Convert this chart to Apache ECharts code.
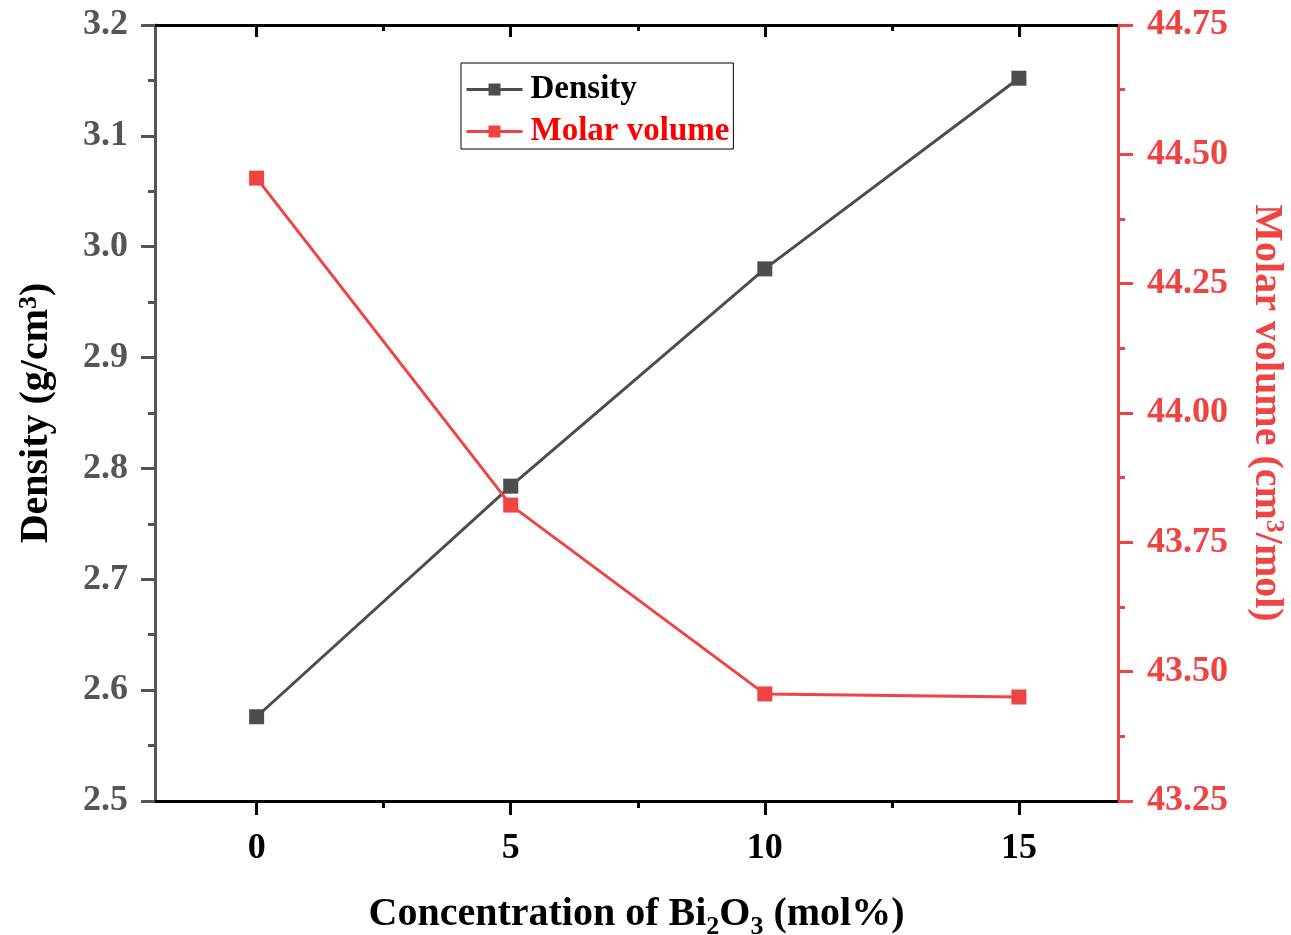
<!DOCTYPE html>
<html>
<head>
<meta charset="utf-8">
<script src="https://cdn.jsdelivr.net/npm/echarts@6/dist/echarts.min.js"></script>
<style>html,body{margin:0;padding:0;background:#fff}#c{width:1291px;height:935px}</style>
</head>
<body>
<div id="c"></div>
<script>
var concentration = [0, 5, 10, 15];
var density = [2.576, 2.784, 2.980, 3.152];
var molarVolume = [44.454, 43.822, 43.457, 43.451];
var xMajorTicks = [0, 5, 10, 15];
var xMinorTicks = [2.5, 7.5, 12.5];

var FONT = '"Liberation Serif","Times New Roman",serif';
var GREY = '#555555';
var DGREY = '#4d4d4d';
var RED = '#f04343';

var chart = echarts.init(document.getElementById('c'));
var base = {type: 'value', min: -2, max: 16.95, splitLine: {show: false}};
function xa(pos, ticks, len, inside, showLine, showLabel, name) {
  var o = Object.assign({}, base, {
    position: pos,
    axisLine: {show: showLine, onZero: false, lineStyle: {color: '#000', width: 3}},
    axisTick: {show: true, customValues: ticks, length: len, inside: inside, lineStyle: {color: '#000', width: 3}},
    axisLabel: showLabel ? {show: true, customValues: ticks, margin: 30, color: '#000', fontFamily: FONT, fontWeight: 'bold', fontSize: 36} : {show: false}
  });
  if (name) {
    o.name = name;
    o.nameLocation = 'middle';
    o.nameGap = 89;
    o.nameTextStyle = {
      color: '#000', fontFamily: FONT, fontWeight: 'bold', fontSize: 40,
      rich: {
        sub: {fontFamily: FONT, fontWeight: 'bold', fontSize: 26, color: '#000', verticalAlign: 'bottom', padding: [24, 0, 0, 0]}
      }
    };
  }
  return o;
}

var xAxes = [
  xa('bottom', xMajorTicks, 14, false, true, true, 'Concentration of Bi{sub|2}O{sub|3} (mol%)'),
  xa('bottom', xMinorTicks, 7, false, false, false),
  xa('top', xMajorTicks, 12, true, true, false),
  xa('top', xMinorTicks, 6, true, false, false)
];

var option = {
  animation: false,
  backgroundColor: '#fff',
  grid: {left: 155, right: 173, top: 25, bottom: 134, containLabel: false, outerBoundsMode: 'none'},
  legend: {
    orient: 'vertical',
    left: 461, top: 63,
    backgroundColor: '#fff',
    borderColor: '#000', borderWidth: 1,
    padding: [10, 4, 1, 4],
    itemWidth: 56, itemHeight: 15, itemGap: 9,
    lineStyle: {width: 3},
    textStyle: {fontFamily: FONT, fontWeight: 'bold', fontSize: 33, padding: [0, 0, 0, 3]},
    data: [
      {name: 'Density', textStyle: {color: '#000'}},
      {name: 'Molar volume', textStyle: {color: '#ff0000'}}
    ]
  },
  xAxis: xAxes,
  yAxis: [
    {
      type: 'value', position: 'left', min: 2.5, max: 3.2, interval: 0.1,
      splitLine: {show: false},
      axisLine: {show: true, onZero: false, lineStyle: {color: GREY, width: 3}},
      axisTick: {show: true, length: 14, lineStyle: {color: GREY, width: 3}},
      minorTick: {show: true, splitNumber: 2, length: 7, lineStyle: {color: GREY, width: 3}},
      axisLabel: {margin: 27, color: GREY, fontFamily: FONT, fontWeight: 'bold', fontSize: 36,
        formatter: function (v) { return v.toFixed(1); }},
      name: 'Density (g/cm{sup|3})',
      nameLocation: 'middle', nameRotate: 90, nameGap: 97,
      nameTextStyle: {color: '#000', fontFamily: FONT, fontWeight: 'bold', fontSize: 40,
        rich: {sup: {fontFamily: FONT, fontWeight: 'bold', fontSize: 26, color: '#000', verticalAlign: 'top', padding: [0, 0, 16, 0]}}}
    },
    {
      type: 'value', position: 'right', min: 43.25, max: 44.75, interval: 0.25,
      splitLine: {show: false},
      axisLine: {show: true, onZero: false, lineStyle: {color: RED, width: 3}},
      axisTick: {show: true, length: 15, lineStyle: {color: RED, width: 3}},
      minorTick: {show: true, splitNumber: 2, length: 7, lineStyle: {color: RED, width: 3}},
      axisLabel: {margin: 29, color: RED, fontFamily: FONT, fontWeight: 'bold', fontSize: 36,
        formatter: function (v) { return v.toFixed(2); }},
      name: 'Molar volume (cm{sup|3}/mol)',
      nameLocation: 'middle', nameRotate: -90, nameGap: 127,
      nameTextStyle: {color: RED, fontFamily: FONT, fontWeight: 'bold', fontSize: 40,
        rich: {sup: {fontFamily: FONT, fontWeight: 'bold', fontSize: 26, color: RED, verticalAlign: 'top', padding: [0, 0, 16, 0]}}}
    }
  ],
  series: [
    {
      name: 'Density', type: 'line', xAxisIndex: 0, yAxisIndex: 0,
      data: concentration.map(function (c, i) { return [c, density[i]]; }),
      symbol: 'rect', symbolSize: 15,
      itemStyle: {color: DGREY},
      lineStyle: {color: DGREY, width: 3}
    },
    {
      name: 'Molar volume', type: 'line', xAxisIndex: 0, yAxisIndex: 1,
      data: concentration.map(function (c, i) { return [c, molarVolume[i]]; }),
      symbol: 'rect', symbolSize: 15,
      itemStyle: {color: RED},
      lineStyle: {color: RED, width: 3}
    }
  ]
};
chart.setOption(option);
</script>
</body>
</html>
